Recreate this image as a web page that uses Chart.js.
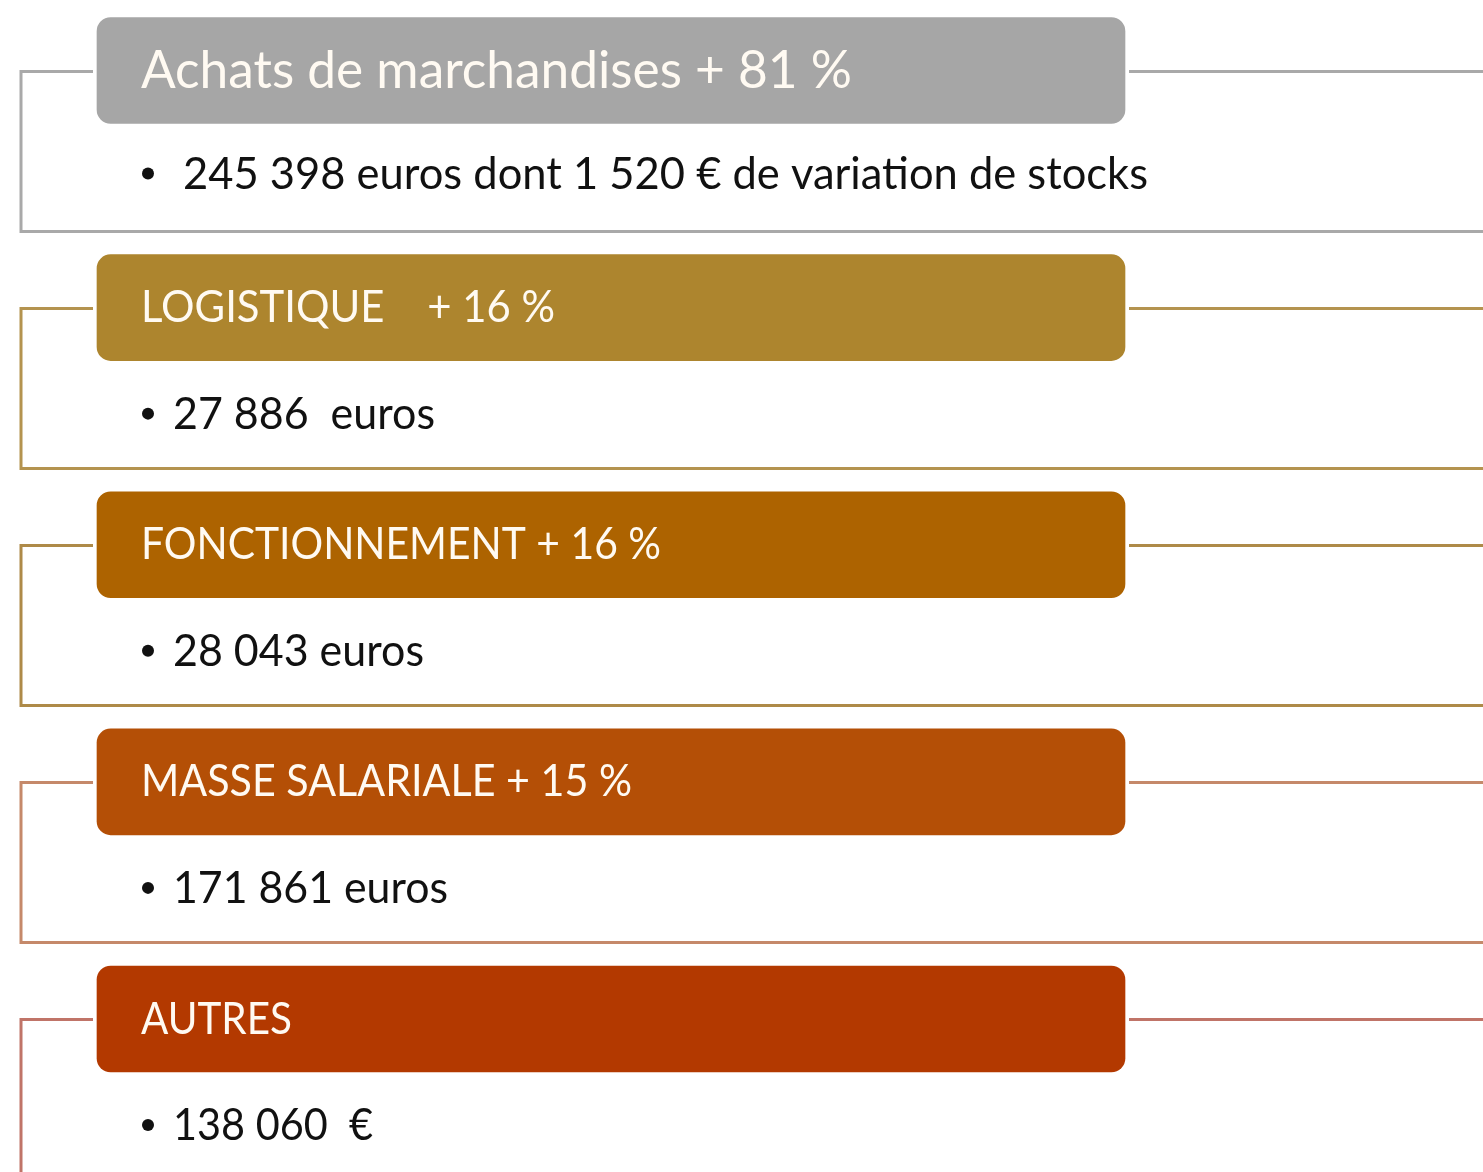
<!DOCTYPE html>
<html lang="fr">
<head>
<meta charset="utf-8">
<title>Charges</title>
<script src="https://cdn.jsdelivr.net/npm/chart.js@4.4.1/dist/chart.umd.min.js"></script>
<style>
  html, body { margin: 0; padding: 0; background: #ffffff; }
  #wrap { width: 1483px; height: 1172px; }
</style>
</head>
<body>
<div id="wrap"><canvas id="chargesChart" width="1483" height="1172"></canvas></div>
<script>
// --- data ---
const categories = ['Achats de marchandises', 'LOGISTIQUE', 'FONCTIONNEMENT', 'MASSE SALARIALE', 'AUTRES'];
const growthPct = [81, 16, 16, 15, null];
const growthSep = [' + ', '    + ', ' + ', ' + ', ''];
const amounts = [245398, 27886, 28043, 171861, 138060];
const amountSuffix = [' euros dont 1 520 € de variation de stocks', '  euros', ' euros', ' euros', '  €'];

// --- styles ---
const boxColors = ['#a6a6a6', '#ad852e', '#ad6300', '#b44f06', '#b33900'];
const lineColors = ['#a9a9a9', '#b4934f', '#ae8a48', '#c5896a', '#c07468'];
const FONT = "Lato, 'Open Sans', sans-serif";

// layout (pixels)
const BOX_LEFT = 97, BOX_RIGHT = 1125, BOX_H = 106;
const FRAME_X = 21, FRAME_DROP = 160, LINE_GAP = 4;
const headerSize = [53, 44, 44, 44, 44];
const headerWidth = [711, 414, 520, 491, 151];
const bodyIndent = [183, 173, 173, 173, 173];
const bodyWidth = [965, 262, 251, 275, 200];

const fmt = n => String(n).replace(/\B(?=(\d{3})+(?!\d))/g, ' ');
const headerText = categories.map((c, i) => growthPct[i] == null ? c : `${c}${growthSep[i]}${growthPct[i]} %`);
const bodyText = amounts.map((v, i) => fmt(v) + amountSuffix[i]);

// draws text squeezed/stretched to a target width, like the original slide
function fitText(ctx, txt, x, y, width) {
  const w = ctx.measureText(txt).width;
  const s = Math.max(0.75, Math.min(1.25, width / w));
  ctx.save();
  ctx.translate(x, y);
  ctx.scale(s, 1);
  ctx.fillText(txt, 0, 0);
  ctx.restore();
}

const framePlugin = {
  id: 'frames',
  beforeDatasetsDraw(chart) {
    const { ctx, scales: { y }, width } = chart;
    ctx.save();
    ctx.lineWidth = 3;
    categories.forEach((c, i) => {
      const yc = Math.round(y.getPixelForValue(i)) + 0.5;
      ctx.strokeStyle = lineColors[i];
      ctx.beginPath();
      ctx.moveTo(BOX_LEFT - LINE_GAP, yc);
      ctx.lineTo(FRAME_X, yc);
      ctx.lineTo(FRAME_X, yc + FRAME_DROP);
      ctx.lineTo(width + 5, yc + FRAME_DROP);
      ctx.moveTo(BOX_RIGHT + LINE_GAP, yc);
      ctx.lineTo(width + 5, yc);
      ctx.stroke();
    });
    ctx.restore();
  },
  afterDatasetsDraw(chart) {
    const { ctx, scales: { y } } = chart;
    ctx.save();
    ctx.textBaseline = 'alphabetic';
    ctx.textAlign = 'left';
    categories.forEach((c, i) => {
      const yc = y.getPixelForValue(i);
      // header label
      ctx.fillStyle = '#fffaf2';
      ctx.font = `${headerSize[i]}px ${FONT}`;
      fitText(ctx, headerText[i], 141, yc + (i === 0 ? 17.5 : 14.5), headerWidth[i]);
      // bullet line
      const base = yc + (i === 0 ? 118 : 121);
      ctx.fillStyle = '#111111';
      ctx.beginPath();
      ctx.arc(148, base - 15, 6, 0, Math.PI * 2);
      ctx.fill();
      ctx.font = `44px ${FONT}`;
      fitText(ctx, bodyText[i], bodyIndent[i], base, bodyWidth[i]);
    });
    ctx.restore();
  }
};

new Chart(document.getElementById('chargesChart'), {
  type: 'bar',
  data: {
    labels: categories,
    datasets: [{
      label: 'Charges',
      data: categories.map(() => [BOX_LEFT, BOX_RIGHT]),
      backgroundColor: boxColors,
      borderWidth: 0,
      borderRadius: 14,
      borderSkipped: false,
      barThickness: BOX_H,
      clip: false
    }]
  },
  options: {
    indexAxis: 'y',
    responsive: false,
    devicePixelRatio: 1,
    animation: false,
    layout: { padding: { top: 70.5, bottom: 153, left: 0, right: 0 } },
    scales: {
      x: { type: 'linear', min: 0, max: 1483, display: false },
      y: { type: 'category', offset: false, display: false }
    },
    plugins: {
      legend: { display: false },
      tooltip: { enabled: false },
      title: { display: false }
    }
  },
  plugins: [framePlugin]
});
</script>
</body>
</html>
